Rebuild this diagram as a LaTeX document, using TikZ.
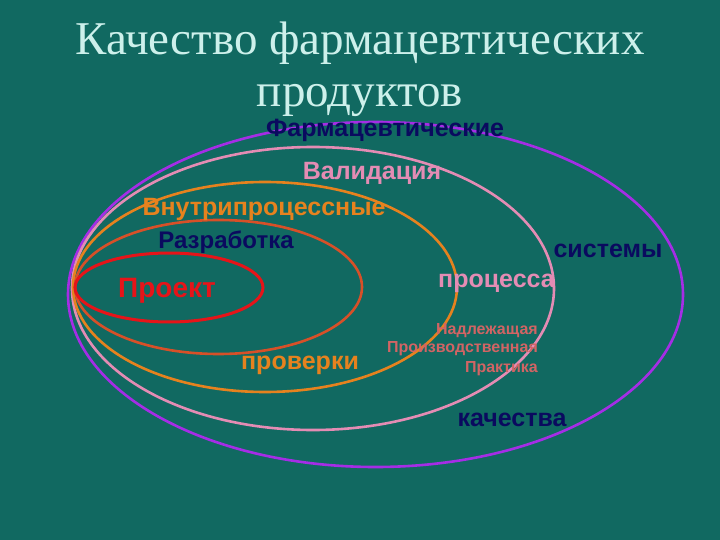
\documentclass[tikz,border=0pt]{standalone}
\usepackage{fontspec}
\setmainfont{Liberation Serif}
\setsansfont{Liberation Sans}
\usetikzlibrary{shapes.geometric}
\definecolor{bg}{RGB}{17,105,97}
\definecolor{titlec}{RGB}{205,240,235}
\definecolor{purp}{RGB}{165,45,230}
\definecolor{pinkc}{RGB}{228,140,180}
\definecolor{orangec}{RGB}{230,130,30}
\definecolor{redor}{RGB}{215,80,40}
\definecolor{redc}{RGB}{230,20,25}
\definecolor{navy}{RGB}{10,10,95}
\definecolor{salmon}{RGB}{210,100,100}
\tikzset{
  ring/.style={draw, ellipse, inner sep=0pt, line width=2.6pt},
  lbl/.style={font=\sffamily\bfseries\fontsize{25}{30}\selectfont, inner sep=0pt, anchor=base},
  small/.style={font=\sffamily\bfseries\fontsize{16}{19}\selectfont, inner sep=0pt, text=salmon, anchor=base east},
  ttl/.style={font=\fontsize{47}{52}\selectfont, text=titlec, inner sep=0pt, anchor=base}
}
\begin{document}
\begin{tikzpicture}[x=1pt,y=-1pt]
\fill[bg] (0,0) rectangle (720,540);
\useasboundingbox (0,0) rectangle (720,540);
% title
\node[ttl] (t1) at (360,55) {Качество фармацевтических};
\node[ttl] (t2) at (360,107) {продуктов};
% ellipses
\node[ring, draw=purp, minimum width=615pt, minimum height=345pt] (sys) at (375.5,294.5) {};
\node[ring, draw=pinkc, minimum width=482pt, minimum height=283pt] (val) at (313,288.5) {};
\node[ring, draw=orangec, minimum width=384pt, minimum height=210pt] (ipc) at (265,287) {};
\node[ring, draw=redor, minimum width=287pt, minimum height=134pt] (dev) at (218.5,287) {};
\node[ring, draw=redc, minimum width=188pt, minimum height=69pt, line width=3pt] (prj) at (169,287.5) {};
% labels
\node[lbl, text=navy] (l1) at (385,137) {Фармацевтические};
\node[lbl, text=pinkc] (l2) at (372,180) {Валидация};
\node[lbl, text=orangec] (l3) at (264,215) {Внутрипроцессные};
\node[lbl, text=navy, font=\sffamily\bfseries\fontsize{24}{28}\selectfont] (l4) at (226,248) {Разработка};
\node[lbl, text=redc, font=\sffamily\bfseries\fontsize{28}{32}\selectfont] (l5) at (167,297) {Проект};
\node[lbl, text=navy] (l6) at (608,258) {системы};
\node[lbl, text=pinkc] (l7) at (496.5,287) {процесса};
\node[small] (l8a) at (538,334) {Надлежащая};
\node[small] (l8b) at (538,352) {Производственная};
\node[small] (l8c) at (538,372) {Практика};
\node[lbl, text=orangec] (l9) at (300,369) {проверки};
\node[lbl, text=navy] (l10) at (512,426) {качества};
\end{tikzpicture}
\end{document}
